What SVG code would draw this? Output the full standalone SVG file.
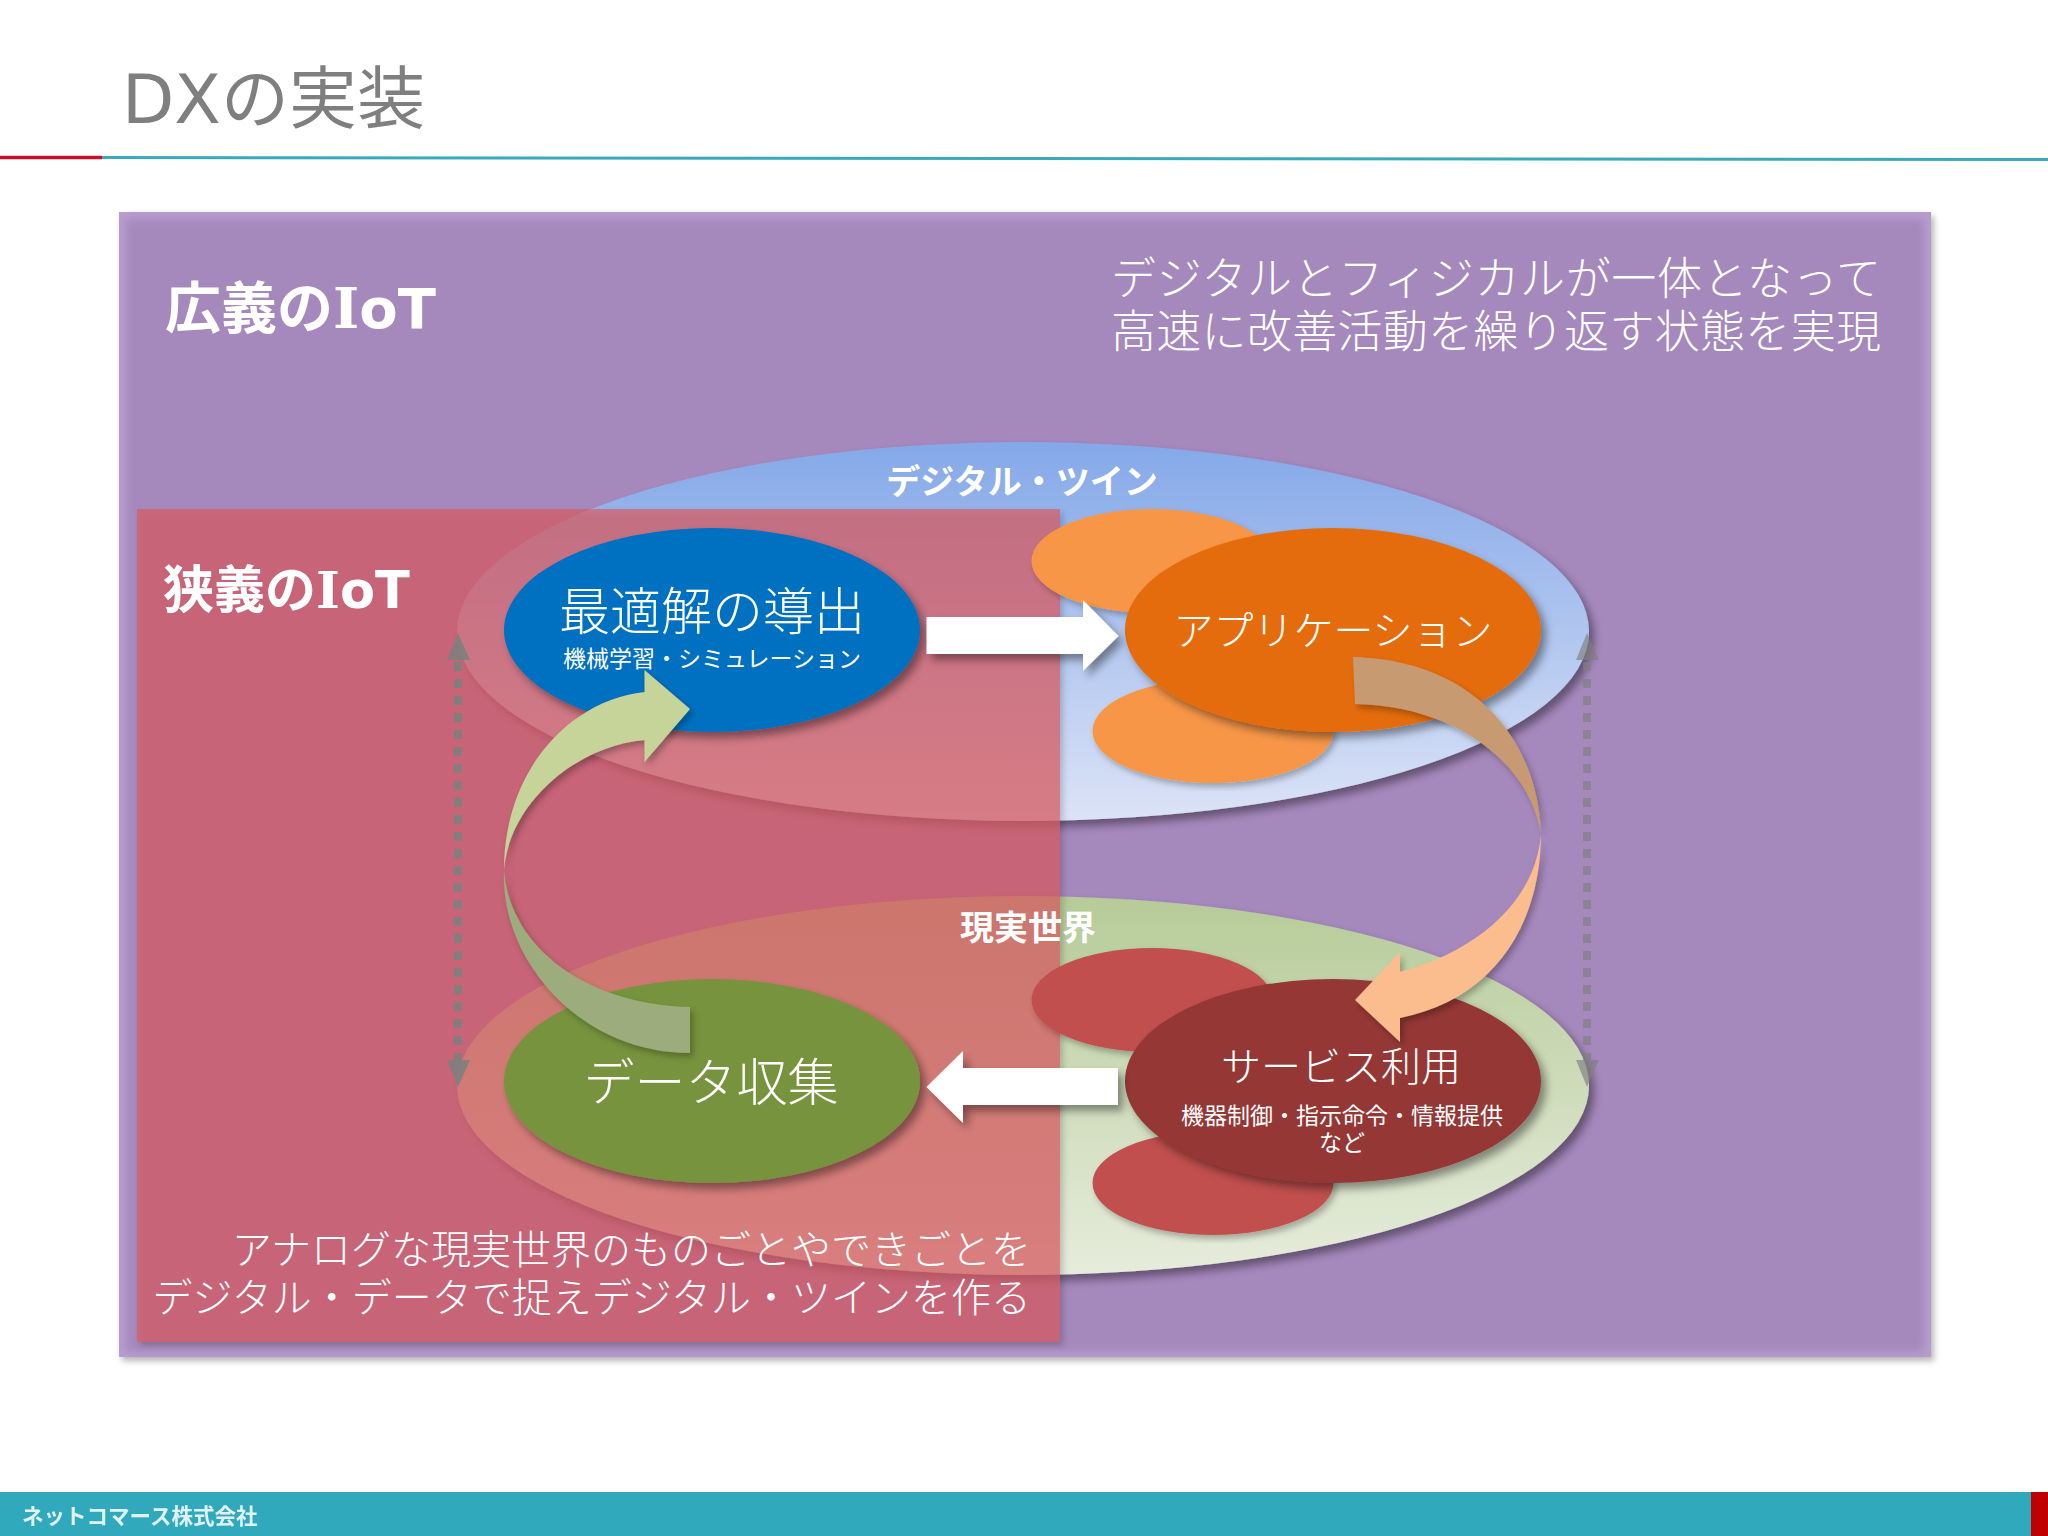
<svg xmlns="http://www.w3.org/2000/svg" width="2048" height="1536" viewBox="0 0 2048 1536">
<style>
text{font-family:"DejaVu Sans","Noto Sans CJK JP",sans-serif;fill:#fff}
.l{font-weight:300}
.r{font-weight:400}
.b{font-weight:700}
.m{text-anchor:middle}
.e{text-anchor:end}
.sl{font-family:"DejaVu Serif","Noto Sans CJK JP",serif}
.ttl{fill:#7f7f7f}
.dot{stroke:#7f7f7f;stroke-width:8;stroke-dasharray:9 8;fill:none}
.hd{fill:#7f7f7f}
</style>
<defs>
<filter id="sh" x="-10%" y="-10%" width="125%" height="125%"><feDropShadow dx="5" dy="6" stdDeviation="4" flood-color="#000" flood-opacity=".4"/></filter>
<filter id="shs" x="-5%" y="-5%" width="112%" height="112%"><feDropShadow dx="3" dy="4" stdDeviation="3" flood-color="#000" flood-opacity=".28"/></filter>
<filter id="bl" x="-5%" y="-5%" width="110%" height="110%"><feGaussianBlur stdDeviation="4"/></filter>
<linearGradient id="gb" x1="0" y1="0" x2="0" y2="1"><stop offset="0" stop-color="#84a8e8"/><stop offset="1" stop-color="#dce3f6"/></linearGradient>
<linearGradient id="gg" x1="0" y1="0" x2="0" y2="1"><stop offset="0" stop-color="#b6cb98"/><stop offset="1" stop-color="#e6ecdc"/></linearGradient>
</defs>

<rect width="2048" height="1536" fill="#fff"/>

<g id="header">
<text class="r ttl" x="122" y="123" font-size="68">DXの実装</text>
<path d="M102,157.500L2048,159.500" stroke="#3aa9bb" stroke-width="3" fill="none"/>
<path d="M0,157.500H102" stroke="#c8102e" stroke-width="3.500" fill="none"/>
</g>

<g id="broad-iot">
<rect x="119" y="212" width="1812" height="1145" fill="#b79dcf" filter="url(#shs)"/>
<rect x="126" y="219" width="1798" height="1133" fill="#a588bc" filter="url(#bl)"/>
<text class="b" x="165" y="328" font-size="56">広義の<tspan class="sl">I</tspan>oT</text>
<text class="l" x="1111" y="295" font-size="45" textLength="770">デジタルとフィジカルが一体となって</text>
<text class="l" x="1111" y="348" font-size="45" textLength="770">高速に改善活動を繰り返す状態を実現</text>
</g>

<g id="digital-twin-plane">
<ellipse cx="1023" cy="631.500" rx="566" ry="189.500" fill="url(#gb)" filter="url(#sh)"/>
</g>
<g id="real-world-plane">
<ellipse cx="1023" cy="1085.500" rx="566" ry="189.500" fill="url(#gg)" filter="url(#sh)"/>
</g>

<g id="narrow-iot">
<rect x="137" y="509" width="923" height="833" fill="#dc5c62" fill-opacity=".68" filter="url(#shs)"/>
<text class="b" x="163" y="608" font-size="51">狭義の<tspan class="sl">I</tspan>oT</text>
</g>

<text class="b m" x="1022" y="494" font-size="34">デジタル・ツイン</text>
<text class="b m" x="1028" y="940" font-size="34">現実世界</text>

<g id="app-satellites">
<ellipse cx="1152" cy="561" rx="120.500" ry="52" fill="#f79646" filter="url(#shs)"/>
<ellipse cx="1213" cy="731" rx="120.500" ry="52" fill="#f79646" filter="url(#shs)"/>
</g>
<g id="service-satellites">
<ellipse cx="1152" cy="1000" rx="120.500" ry="52" fill="#c0504d" filter="url(#shs)"/>
<ellipse cx="1213" cy="1183" rx="120.500" ry="52" fill="#c0504d" filter="url(#shs)"/>
</g>

<g id="node-optimal">
<ellipse cx="712" cy="630" rx="208" ry="102" fill="#0070c0" filter="url(#sh)"/>
<text class="l m" x="712" y="630" font-size="51">最適解の導出</text>
<text class="r m" x="712" y="667" font-size="23">機械学習・シミュレーション</text>
</g>
<g id="node-application">
<ellipse cx="1333" cy="630" rx="208" ry="102" fill="#e46c0a" filter="url(#sh)"/>
<text class="l m" x="1333" y="645" font-size="40">アプリケーション</text>
</g>
<g id="node-data">
<ellipse cx="712" cy="1081" rx="208" ry="102" fill="#77933c" filter="url(#sh)"/>
<text class="l m" x="711" y="1101" font-size="51">データ収集</text>
</g>
<g id="node-service">
<ellipse cx="1333" cy="1081" rx="208" ry="102" fill="#953735" filter="url(#sh)"/>
<text class="l m" x="1341" y="1081" font-size="40">サービス利用</text>
<text class="r m" x="1342" y="1124" font-size="23">機器制御・指示命令・情報提供</text>
<text class="r m" x="1342" y="1151" font-size="23">など</text>
</g>

<g id="connectors">
<g filter="url(#sh)">
<path d="M926.500,617H1083V600L1118.500,636L1083,671V654H926.500Z" fill="#fff"/>
<path d="M1118,1068H963V1051L926.500,1087L963,1123V1105H1118Z" fill="#fff"/>
</g>
<g filter="url(#shs)">
<path d="M504,870C504,770 570,700 644.500,692V670L690,709L644.500,762V740C580,745 510,800 504,870Z" fill="#c6d49a"/>
<path d="M504,870C510,950 590,1005 690,1007V1053C580,1053 500,960 504,870Z" fill="#9dac7b"/>
<path d="M1353,657C1470,660 1538,735 1541,835C1530,760 1450,705 1355,704Z" fill="#c79a72"/>
<path d="M1541,835C1535,900 1480,950 1400,972V952L1355,1000L1400,1042V1018C1490,1000 1540,930 1541,835Z" fill="#fbbd8d"/>
</g>
<g id="sync-left" opacity=".9">
<path class="dot" d="M458,662V1060"/>
<path class="hd" d="M458,633L470,660H447Z"/>
<path class="hd" d="M458,1087L470,1060H447Z"/>
</g>
<g id="sync-right" opacity=".65">
<path class="dot" d="M1587,662V1060"/>
<path class="hd" d="M1587,633L1599,660H1576Z"/>
<path class="hd" d="M1587,1087L1599,1060H1576Z"/>
</g>
</g>

<g id="caption">
<text class="l e" x="1031" y="1264" font-size="40">アナログな現実世界のものごとやできごとを</text>
<text class="l e" x="1031" y="1312" font-size="40">デジタル・データで捉えデジタル・ツインを作る</text>
</g>

<g id="footer">
<rect x="0" y="1492" width="2048" height="44" fill="#31a9bd"/>
<rect x="2031" y="1492" width="17" height="44" fill="#c00000"/>
<text class="b" x="22" y="1524" font-size="21.500" opacity=".85">ネットコマース株式会社</text>
</g>
</svg>
